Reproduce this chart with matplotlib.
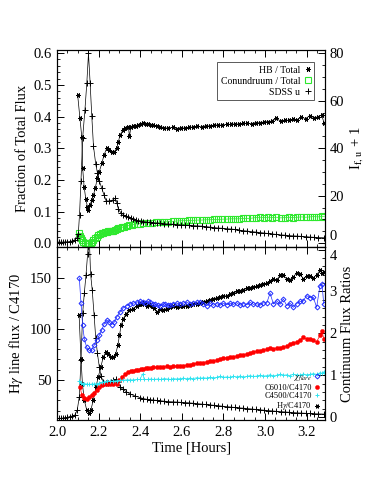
import numpy as np
import matplotlib
matplotlib.use("Agg")
import matplotlib.pyplot as plt
from matplotlib.lines import Line2D
from matplotlib.ticker import MultipleLocator

plt.rcParams['font.family'] = 'serif'
plt.rcParams['font.serif'] = ['Liberation Serif', 'DejaVu Serif']
plt.rcParams['mathtext.fontset'] = 'stix'

# ---------------- top panel data ----------------
# HB / Total (left axis, fraction)
hb_t = [2.099, 2.110, 2.119, 2.123, 2.130, 2.138, 2.146, 2.151, 2.159, 2.167, 2.175, 2.183,
        2.194, 2.203, 2.215, 2.226, 2.239, 2.252, 2.263, 2.276, 2.287, 2.295, 2.303, 2.316,
        2.327, 2.343, 2.348, 2.355, 2.367, 2.379, 2.391, 2.403, 2.415, 2.427, 2.439, 2.451,
        2.463, 2.479, 2.495, 2.515, 2.535, 2.555, 2.575, 2.595, 2.615, 2.635, 2.655, 2.675,
        2.695, 2.715, 2.735, 2.755, 2.775, 2.795, 2.815, 2.835, 2.855, 2.875, 2.895, 2.915,
        2.935, 2.955, 2.975, 2.995, 3.015, 3.035, 3.055, 3.075, 3.095, 3.115, 3.135, 3.155,
        3.175, 3.195, 3.215, 3.235, 3.255, 3.272, 3.283]
hb_v = [0.468, 0.394, 0.334, 0.237, 0.179, 0.140, 0.115, 0.106, 0.121, 0.137, 0.152, 0.173,
        0.205, 0.226, 0.252, 0.279, 0.300, 0.295, 0.287, 0.289, 0.300, 0.321, 0.342, 0.356,
        0.363, 0.368, 0.337, 0.366, 0.370, 0.371, 0.373, 0.375, 0.379, 0.376, 0.377, 0.374,
        0.373, 0.370, 0.368, 0.365, 0.363, 0.366, 0.362, 0.365, 0.363, 0.367, 0.366, 0.369,
        0.367, 0.371, 0.370, 0.372, 0.374, 0.372, 0.376, 0.375, 0.377, 0.376, 0.378, 0.379,
        0.377, 0.381, 0.380, 0.383, 0.384, 0.386, 0.394, 0.385, 0.389, 0.388, 0.392, 0.390,
        0.398, 0.393, 0.403, 0.396, 0.399, 0.405, 0.381]

# Conundruum / Total (left axis, fraction)
cn_t = [2.107, 2.111, 2.115, 2.120, 2.126, 2.134, 2.142, 2.149, 2.155, 2.161, 2.167, 2.175,
        2.183, 2.191, 2.199, 2.207, 2.215, 2.223, 2.231, 2.239, 2.247, 2.255, 2.263, 2.271,
        2.279, 2.287, 2.295, 2.303, 2.311, 2.323, 2.335, 2.347, 2.359, 2.371, 2.383, 2.399,
        2.415, 2.435, 2.455, 2.475, 2.495, 2.515, 2.535, 2.555, 2.575, 2.595, 2.615, 2.635,
        2.655, 2.675, 2.695, 2.715, 2.735, 2.755, 2.775, 2.795, 2.815, 2.835, 2.855, 2.875,
        2.895, 2.915, 2.935, 2.955, 2.975, 2.995, 3.015, 3.035, 3.055, 3.075, 3.095, 3.115,
        3.135, 3.155, 3.175, 3.195, 3.215, 3.235, 3.255, 3.275, 3.285]
cn_v = [0.032, 0.024, 0.016, 0.010, 0.005, 0.002, 0.000, -0.002, 0.000, 0.002, 0.005, 0.010,
        0.016, 0.021, 0.026, 0.029, 0.032, 0.033, 0.034, 0.036, 0.037, 0.037, 0.038, 0.040,
        0.042, 0.044, 0.047, 0.048, 0.050, 0.052, 0.055, 0.056, 0.058, 0.060, 0.061, 0.062,
        0.063, 0.064, 0.065, 0.066, 0.066, 0.067, 0.068, 0.069, 0.070, 0.071, 0.071, 0.072,
        0.072, 0.073, 0.073, 0.074, 0.074, 0.075, 0.075, 0.076, 0.076, 0.077, 0.077, 0.077,
        0.078, 0.078, 0.079, 0.081, 0.082, 0.081, 0.082, 0.081, 0.082, 0.080, 0.081, 0.082,
        0.081, 0.082, 0.083, 0.082, 0.083, 0.084, 0.083, 0.085, 0.084]

# SDSS u (right axis, I_f,u + 1)
u_t = [2.000, 2.010, 2.020, 2.030, 2.040, 2.050, 2.062, 2.074, 2.086, 2.094, 2.102, 2.108,
       2.115, 2.123, 2.134, 2.143, 2.151, 2.159, 2.167, 2.175, 2.186, 2.194, 2.203, 2.214,
       2.225, 2.236, 2.252, 2.268, 2.279, 2.287, 2.295, 2.306, 2.319, 2.331, 2.343, 2.355,
       2.367, 2.379, 2.391, 2.403, 2.415, 2.431, 2.447, 2.463, 2.479, 2.495, 2.515, 2.535,
       2.555, 2.575, 2.595, 2.615, 2.635, 2.655, 2.675, 2.695, 2.715, 2.735, 2.755, 2.775,
       2.795, 2.815, 2.835, 2.855, 2.875, 2.895, 2.915, 2.935, 2.955, 2.975, 2.995, 3.015,
       3.035, 3.055, 3.075, 3.095, 3.115, 3.135, 3.155, 3.175, 3.195, 3.215, 3.235, 3.255, 3.283]
u_v = [0.5, 0.5, 0.5, 0.5, 0.6, 0.6, 0.7, 1.0, 1.5, 2.2, 3.9, 12.0,
       26.2, 44.3, 56.2, 67.4, 79.9, 67.4, 53.4, 40.9, 33.2, 29.7, 26.2, 23.4,
       20.5, 17.8, 17.8, 18.2, 18.9, 17.1, 14.3, 12.9, 12.0, 11.4, 10.9, 10.5,
       10.2, 9.8, 9.5, 9.3, 9.1, 8.9, 8.8, 8.6, 8.5, 8.4, 8.2, 8.1,
       8.0, 7.8, 7.7, 7.6, 7.5, 7.4, 7.3, 7.2, 7.0, 6.8, 6.6, 6.4,
       6.3, 6.1, 6.0, 5.8, 5.5, 5.3, 5.1, 4.9, 4.7, 4.5, 4.3, 4.1,
       3.9, 3.7, 3.5, 3.4, 3.2, 3.1, 3.0, 2.9, 2.8, 2.6, 2.5, 2.4, 2.3]

# ---------------- bottom panel data ----------------
# H-gamma line flux / C4170 (left axis)
hg_t = [2.000, 2.010, 2.020, 2.030, 2.040, 2.050, 2.062, 2.074, 2.086, 2.097, 2.107, 2.115,
        2.123, 2.131, 2.139, 2.147, 2.154, 2.161, 2.169, 2.178, 2.186, 2.194, 2.203, 2.211,
        2.222, 2.234, 2.246, 2.258, 2.271, 2.282, 2.292, 2.303, 2.316, 2.332, 2.351, 2.375,
        2.399, 2.415, 2.431, 2.447, 2.463, 2.479, 2.495, 2.515, 2.535, 2.555, 2.575, 2.595,
        2.615, 2.635, 2.655, 2.675, 2.695, 2.715, 2.735, 2.755, 2.775, 2.795, 2.815, 2.835,
        2.855, 2.875, 2.895, 2.915, 2.935, 2.955, 2.975, 2.995, 3.015, 3.035, 3.055, 3.075,
        3.095, 3.115, 3.135, 3.155, 3.175, 3.195, 3.215, 3.235, 3.255, 3.283]
hg_v = [12.5, 12.5, 12.6, 12.8, 13.0, 13.5, 14.1, 14.8, 15.7, 20.6, 33.6, 69.7,
        115.3, 135.0, 152.4, 173.6, 195.0, 154.0, 137.9, 113.5, 90.7, 76.0, 63.0, 53.9,
        48.3, 46.7, 46.7, 48.3, 50.0, 50.6, 48.3, 43.4, 40.8, 38.6, 36.3, 34.3,
        32.7, 31.8, 31.1, 30.7, 30.4, 30.0, 29.7, 29.2, 28.8, 28.6, 28.4, 28.1,
        27.9, 27.6, 27.2, 26.8, 26.4, 26.0, 25.6, 25.2, 24.8, 24.3, 23.9, 23.5,
        23.1, 22.7, 22.4, 22.0, 21.6, 21.2, 20.8, 20.4, 20.0, 19.7, 19.3, 19.0,
        18.7, 18.4, 18.1, 17.8, 17.6, 17.4, 17.2, 17.0, 16.8, 16.6]

# continuum ratios (right axis), common late-time grid
r_t = [2.559, 2.575, 2.591, 2.607, 2.623, 2.639, 2.655, 2.671, 2.688, 2.704, 2.720, 2.736,
       2.752, 2.768, 2.784, 2.800, 2.816, 2.832, 2.848, 2.864, 2.880, 2.896, 2.912, 2.928,
       2.944, 2.960, 2.976, 2.992, 3.008, 3.024, 3.040, 3.056, 3.072, 3.088, 3.104, 3.120,
       3.136, 3.152, 3.168, 3.184, 3.200, 3.216, 3.232, 3.248, 3.264, 3.274, 3.282]

# H-gamma / C4170 (asterisks)
hgr_t = [2.106, 2.115, 2.122, 2.131, 2.142, 2.153, 2.163, 2.174, 2.187, 2.198, 2.210, 2.222,
         2.234, 2.246, 2.258, 2.271, 2.282, 2.292, 2.300, 2.308, 2.319, 2.332, 2.348, 2.364,
         2.383, 2.395, 2.407, 2.419, 2.431, 2.443, 2.455, 2.467, 2.479, 2.495, 2.511, 2.527,
         2.543] + r_t
hgr_v = [2.43, 1.39, 0.79, 0.40, 0.18, 0.09, 0.18, 0.40, 0.72, 0.96, 1.19, 1.43,
         1.55, 1.51, 1.43, 1.43, 1.51, 1.71, 1.95, 2.19, 2.35, 2.47, 2.55, 2.59,
         2.64, 2.70, 2.69, 2.72, 2.66, 2.68, 2.64, 2.60, 2.50, 2.57, 2.56, 2.59,
         2.62,
         2.64, 2.63, 2.64, 2.65, 2.66, 2.68, 2.70, 2.71, 2.72, 2.75, 2.78, 2.80,
         2.82, 2.85, 2.87, 2.88, 2.90, 2.93, 2.96, 3.00, 3.02, 3.04, 3.07, 3.08,
         3.10, 3.13, 3.15, 3.18, 3.20, 3.25, 3.30, 3.28, 3.38, 3.38, 3.30, 3.28,
         3.34, 3.45, 3.42, 3.30, 3.36, 3.36, 3.32, 3.40, 3.50, 3.44, 3.46]

# chi (blue diamonds)
chi_t = [2.107, 2.115, 2.123, 2.131, 2.142, 2.155, 2.166, 2.178, 2.190, 2.203, 2.214, 2.227,
         2.239, 2.250, 2.263, 2.276, 2.287, 2.303, 2.319, 2.335, 2.351, 2.367, 2.383, 2.399,
         2.411, 2.423, 2.435, 2.447, 2.459, 2.471, 2.483, 2.495, 2.507, 2.519, 2.531,
         2.543] + r_t
chi_v = [3.32, 2.72, 2.19, 1.87, 1.67, 1.59, 1.61, 1.71, 1.83, 1.95, 2.07, 2.23,
         2.32, 2.27, 2.21, 2.27, 2.39, 2.51, 2.61, 2.66, 2.70, 2.72, 2.74, 2.77,
         2.74, 2.73, 2.76, 2.74, 2.71, 2.69, 2.67, 2.66, 2.69, 2.70, 2.67,
         2.68,
         2.71, 2.72, 2.70, 2.72, 2.74, 2.71, 2.72, 2.74, 2.75, 2.70, 2.66, 2.72,
         2.67, 2.71, 2.67, 2.72, 2.68, 2.72, 2.69, 2.73, 2.67, 2.71, 2.68, 2.74,
         2.69, 2.71, 2.67, 2.73, 2.72, 2.96, 2.70, 2.78, 2.69, 2.82, 2.66, 2.72,
         2.62, 2.71, 2.76, 2.78, 2.90, 2.85, 2.86, 2.62, 3.14, 3.18, 2.70]

# C6010 / C4170 (red)
red_t = [2.111, 2.119, 2.130, 2.142, 2.155, 2.166, 2.178, 2.190, 2.203, 2.214, 2.227, 2.239,
         2.255, 2.271, 2.287, 2.300, 2.311, 2.327, 2.343, 2.355, 2.367, 2.379, 2.391, 2.403,
         2.415, 2.427, 2.439, 2.451, 2.463, 2.479, 2.495, 2.511, 2.527, 2.543] + r_t
red_v = [0.72, 0.52, 0.46, 0.44, 0.48, 0.52, 0.57, 0.65, 0.72, 0.76, 0.80, 0.79,
         0.78, 0.79, 0.80, 0.88, 0.95, 1.02, 1.07, 1.09, 1.10, 1.12, 1.13, 1.14,
         1.15, 1.16, 1.17, 1.18, 1.19, 1.19, 1.19, 1.20, 1.21, 1.20,
         1.21, 1.22, 1.22, 1.23, 1.24, 1.25, 1.26, 1.28, 1.30, 1.30, 1.32, 1.34,
         1.35, 1.36, 1.39, 1.40, 1.42, 1.43, 1.44, 1.46, 1.48, 1.49, 1.51, 1.52,
         1.55, 1.57, 1.58, 1.59, 1.62, 1.66, 1.63, 1.65, 1.64, 1.67, 1.70, 1.74,
         1.76, 1.80, 1.84, 1.91, 1.86, 1.87, 1.83, 1.80, 1.95, 2.05, 1.87]

# C4500 / C4170 (cyan)
cy_t = [2.107, 2.115, 2.123, 2.131, 2.142, 2.155, 2.166, 2.178, 2.190, 2.203, 2.214, 2.227,
        2.239, 2.255, 2.271, 2.287, 2.303, 2.319, 2.335, 2.351, 2.367, 2.383, 2.399, 2.411,
        2.419, 2.435, 2.451, 2.467, 2.483, 2.499, 2.515, 2.531, 2.547] + r_t
cy_v = [0.86, 0.82, 0.80, 0.80, 0.79, 0.78, 0.79, 0.79, 0.80, 0.81, 0.83, 0.84,
        0.85, 0.86, 0.86, 0.87, 0.88, 0.88, 0.89, 0.89, 0.89, 0.90, 0.90, 1.03,
        0.90, 0.90, 0.91, 0.90, 0.91, 0.90, 0.92, 0.91, 0.90,
        0.92, 0.91, 0.92, 0.93, 0.92, 0.93, 0.92, 0.94, 0.93, 0.94, 0.93, 0.95,
        0.94, 0.95, 0.97, 0.95, 0.96, 0.95, 0.97, 0.96, 0.98, 0.96, 0.97, 0.99,
        0.97, 0.98, 1.00, 0.98, 0.99, 1.01, 0.99, 1.00, 1.02, 1.00, 1.01, 0.99,
        1.02, 1.01, 1.00, 1.03, 1.01, 1.02, 1.04, 1.02, 1.06, 1.05, 1.08]

GREEN = "#2ee82e"
BLUE = "#1f2cff"
RED = "#ff0000"
CYAN = "#2fe3f0"
AST = (6, 2, 90)

fig = plt.figure(figsize=(3.83, 4.95), dpi=100)
ax1 = fig.add_axes([0.149, 0.501, 0.700, 0.398])
ax2 = fig.add_axes([0.149, 0.1515, 0.700, 0.3495], sharex=ax1)
ax1r = ax1.twinx()
ax2r = ax2.twinx()

# top panel
ax1.plot(hb_t, hb_v, color='k', lw=0.5, marker=AST, ms=3.2, mew=0.7)
ax1.plot(cn_t, cn_v, color=GREEN, lw=0.5, marker='s', ms=3.8, mew=0.8, mfc='none')
ax1r.plot(u_t, u_v, color='k', lw=0.5, marker='+', ms=4, mew=0.7)

ylo, yhi = -0.012, 0.61
ax1.set_ylim(ylo, yhi)
ax1r.set_ylim(ylo * 400 / 3, yhi * 400 / 3)
ax1.set_xlim(2.0, 3.289)
ax1.yaxis.set_major_locator(MultipleLocator(0.1))
ax1.yaxis.set_minor_locator(MultipleLocator(0.02))
ax1.yaxis.set_major_formatter(matplotlib.ticker.FormatStrFormatter('%.1f'))
ax1r.yaxis.set_major_locator(MultipleLocator(20))
ax1r.yaxis.set_minor_locator(MultipleLocator(5))
ax1.set_ylabel("Fraction of Total Flux", fontsize=10.5, labelpad=3)
ax1r.set_ylabel(r"I$_{\rm f,\,u}$ + 1", fontsize=10.5, labelpad=3)
plt.setp(ax1.get_xticklabels(), visible=False)

# bottom panel
ax2.plot(hg_t, hg_v, color='k', lw=0.5, marker='+', ms=4, mew=0.7)
ax2r.plot(hgr_t, hgr_v, color='k', lw=0.5, marker=AST, ms=3.2, mew=0.7)
ax2r.plot(chi_t, chi_v, color=BLUE, lw=0.5, marker='D', ms=2.5, mew=0.7, mfc='none')
ax2r.plot(red_t, red_v, color=RED, lw=0.5, marker='o', ms=3, mew=0.3)
ax2r.plot(cy_t, cy_v, color=CYAN, lw=0.5, marker='+', ms=3.5, mew=0.7)

ax2.set_ylim(10.8, 180)
ax2r.set_ylim(-0.07, 4.06)
ax2.yaxis.set_major_locator(MultipleLocator(50))
ax2.yaxis.set_minor_locator(MultipleLocator(10))
ax2r.yaxis.set_major_locator(MultipleLocator(1))
ax2r.yaxis.set_minor_locator(MultipleLocator(0.2))
ax2.xaxis.set_major_locator(MultipleLocator(0.2))
ax2.xaxis.set_minor_locator(MultipleLocator(0.05))
ax2.xaxis.set_major_formatter(matplotlib.ticker.FormatStrFormatter('%.1f'))
ax2.set_ylabel(r"H$\gamma$ line flux / C4170", fontsize=10.5, labelpad=3)
ax2r.set_ylabel("Continuum Flux Ratios", fontsize=10.5, labelpad=3)
ax2.set_xlabel("Time [Hours]", fontsize=10.5, labelpad=2)

for a in (ax1, ax2):
    a.tick_params(which='both', direction='in', top=True, right=False, labelsize=10.5, pad=4)
    a.tick_params(which='major', length=5, width=0.7)
    a.tick_params(which='minor', length=2.5, width=0.6)
for a in (ax1r, ax2r):
    a.tick_params(which='both', direction='in', right=True, labelsize=10.5, pad=3)
    a.tick_params(which='major', length=5, width=0.7)
    a.tick_params(which='minor', length=2.5, width=0.6)
for a in (ax1, ax2, ax1r, ax2r):
    for s in a.spines.values():
        s.set_linewidth(0.8)

# keep the shared-edge labels "0" (top) and "4" (bottom) from colliding
fig.canvas.draw()
for lab in ax1r.get_yticklabels():
    if lab.get_text() in ("0", "\u22120", "$\\mathdefault{0}$"):
        lab.set_va('bottom')
for lab in ax2r.get_yticklabels():
    if lab.get_text() in ("4", "$\\mathdefault{4}$"):
        lab.set_va('top')

# legends (markers on the right of the labels)
h_top = [Line2D([], [], color='k', ls='none', marker=AST, ms=3.5, mew=0.7),
         Line2D([], [], color=GREEN, ls='none', marker='s', ms=4, mew=0.8, mfc='none'),
         Line2D([], [], color='k', ls='none', marker='+', ms=4.5, mew=0.7)]
leg1 = ax1r.legend(h_top, ["HB / Total", "Conundruum / Total", "SDSS u"],
                   loc='upper right', bbox_to_anchor=(0.978, 0.962), markerfirst=False,
                   fontsize=7, handlelength=0.6, handletextpad=0.5, labelspacing=0.2,
                   borderpad=0.35, fancybox=False, framealpha=1, edgecolor='0.35')
leg1.get_frame().set_linewidth(0.7)

h_bot = [Line2D([], [], color=BLUE, ls='none', marker='D', ms=2.5, mew=0.7, mfc='none'),
         Line2D([], [], color=RED, ls='none', marker='o', ms=3, mew=0.3),
         Line2D([], [], color=CYAN, ls='none', marker='+', ms=3.5, mew=0.7),
         Line2D([], [], color='k', ls='none', marker=AST, ms=3, mew=0.7)]
ax2r.legend(h_bot, [r"$\chi_{flare}$", "C6010/C4170", "C4500/C4170", r"H$\gamma$/C4170"],
            loc='lower right', bbox_to_anchor=(1.0, 0.01), markerfirst=False,
            fontsize=6, handlelength=0.5, handletextpad=0.4, labelspacing=0.05,
            borderpad=0.2, frameon=False)

fig.savefig("out.png", dpi=100)
